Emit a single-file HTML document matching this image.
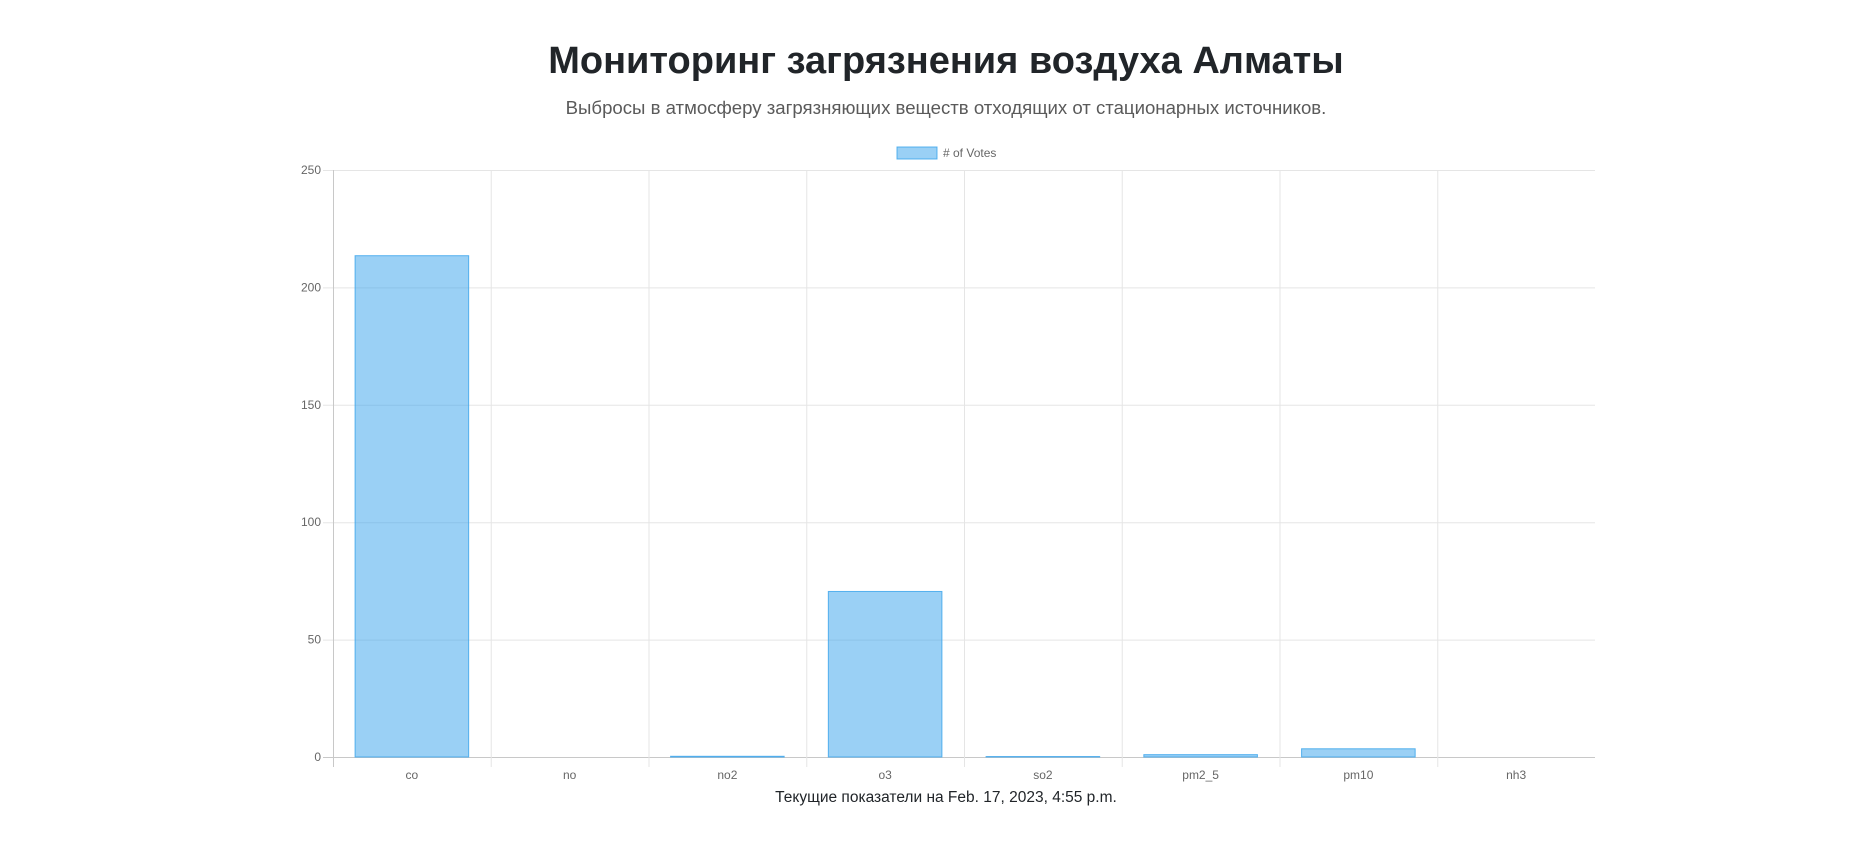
<!DOCTYPE html>
<html><head><meta charset="utf-8">
<style>
html,body{margin:0;padding:0;background:#fff;width:1866px;height:858px;overflow:hidden;font-family:"Liberation Sans",sans-serif}
#title{position:absolute;left:0;width:1892px;top:40px;text-align:center;font-size:38px;font-weight:bold;color:#212529;margin:0}
#sub{position:absolute;left:0;width:1892px;top:97px;text-align:center;font-size:18.6px;color:#5a5a5a;margin:0}
#foot{position:absolute;left:0;width:1892px;top:789px;text-align:center;font-size:15.5px;color:#212529;margin:0}
svg{position:absolute;left:0;top:0}
</style></head><body>
<h1 id="title">Мониторинг загрязнения воздуха Алматы</h1>
<p id="sub">Выбросы в атмосферу загрязняющих веществ отходящих от стационарных источников.</p>
<svg id="chart" width="1866" height="858"></svg>
<p id="foot">Текущие показатели на Feb. 17, 2023, 4:55 p.m.</p>
<script>
const categories=["co","no","no2","o3","so2","pm2_5","pm10","nh3"];
const values=[213.5,0,0.3,70.5,0.2,1,3.5,0];
const yTicks=[0,50,100,150,200,250];
const seriesName="# of Votes";

const L=333,R=1595,T=170,B=757,yMax=250;
const NS="http://www.w3.org/2000/svg";
const svg=document.getElementById('chart');
function y(v){return B-(v/yMax)*(B-T);}
const bw=(R-L)/categories.length;
function x(i){return L+i*bw;}
function mk(tag,attrs,parent){const e=document.createElementNS(NS,tag);for(const k in attrs)e.setAttribute(k,attrs[k]);(parent||svg).appendChild(e);return e;}

yTicks.forEach(t=>{
  const g=mk('line',{x1:L-10,x2:R,y1:y(t)+0.5,y2:y(t)+0.5,stroke:t===0?'#c8c8c8':'#e5e5e5','stroke-width':1});
  
  
  const tx=mk('text',{x:L-12,y:y(t)+4,'text-anchor':'end','font-size':12,fill:'#666','font-family':'Liberation Sans, sans-serif'});
  tx.textContent=t;
  
  
});
categories.forEach((c,i)=>{
  const gl=mk('line',{x1:x(i)+0.5,x2:x(i)+0.5,y1:T,y2:B+10,stroke:i===0?'#c8c8c8':'#e5e5e5','stroke-width':1});
  
  
  const w=bw*0.72, bx=x(i)+(bw-w)/2, top=y(values[i]), h=B-top;
  const r=mk('rect',{x:bx,y:top,width:w,height:Math.max(h,0),fill:'rgba(54,162,235,0.5)',stroke:'rgba(54,162,235,0.8)','stroke-width':1});
  
  
  const tx=mk('text',{x:x(i)+bw/2,y:B+22,'text-anchor':'middle','font-size':12,fill:'#666','font-family':'Liberation Sans, sans-serif'});
  tx.textContent=c;
  
  
});
const lb=mk('rect',{x:897,y:147,width:40,height:12,fill:'rgba(54,162,235,0.5)',stroke:'rgba(54,162,235,0.8)','stroke-width':1});


const lt=mk('text',{x:943,y:157,'font-size':12,fill:'#666','font-family':'Liberation Sans, sans-serif'});
lt.textContent=seriesName;


</script>
</body></html>
